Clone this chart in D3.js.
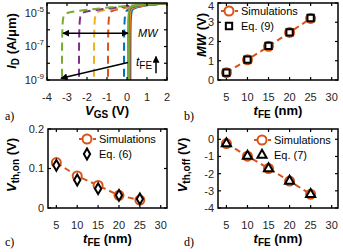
<!DOCTYPE html>
<html>
<head>
<meta charset="utf-8">
<script src="https://cdn.jsdelivr.net/npm/d3@7"></script>
<style>
body { margin: 0; background: #fff; }
svg { display: block; font-family: "Liberation Sans", Arial, sans-serif; }
.tick-label { font-size: 11px; fill: #262626; }
.axis-label { font-size: 13px; font-weight: bold; fill: #000; }
.panel-tag { font-family: "Liberation Serif", "DejaVu Serif", serif; font-size: 12px; fill: #000; }
.legend { font-size: 11px; fill: #000; }
</style>
</head>
<body>
<div id="chart"></div>
<script>
// ---- data ----
const tfe = [5, 10, 15, 20, 25];
const mwSim = [0.38, 1.05, 1.75, 2.47, 3.2];
const mwEq = [0.38, 1.06, 1.77, 2.47, 3.22];
const vonSim = [0.115, 0.081, 0.057, 0.032, 0.020];
const vonEq = [0.108, 0.071, 0.049, 0.032, 0.023];
const voffSim = [-0.25, -0.98, -1.7, -2.43, -3.2];
const voffEq = [-0.25, -0.98, -1.7, -2.43, -3.2];

const tfeTicks = [5, 10, 15, 20, 25, 30];
const vgsTicks = [-4, -3, -2, -1, 0, 1, 2];
const logIdTicks = [-9, -8, -7, -6, -5];
const logIdLabels = [-9, -7, -5];

// transfer curves, one per tFE: [VGS, log10(ID)]
const curveColors = ["#0072BD", "#D95319", "#EDB120", "#7E2F8E", "#77AC30"];
const fwdCurves = [
	[[0.17, -9.3], [0.17, -5.0], [0.25, -4.75], [0.6, -4.6], [1.2, -4.5], [2, -4.42]],
	[[0.13, -9.3], [0.13, -4.95], [0.22, -4.72], [0.6, -4.58], [1.2, -4.49], [2, -4.42]],
	[[0.1, -9.3], [0.1, -4.9], [0.2, -4.7], [0.6, -4.56], [1.2, -4.48], [2, -4.42]],
	[[0.07, -9.3], [0.07, -4.85], [0.17, -4.67], [0.6, -4.54], [1.2, -4.47], [2, -4.42]],
	[[0.05, -9.3], [0.05, -4.8], [0.15, -4.63], [0.6, -4.52], [1.2, -4.46], [2, -4.42]]
];
const bwdCurves = [
	[[-0.15, -8.8], [-0.15, -5.0], [0.0, -4.8], [0.5, -4.62], [1.2, -4.5], [2, -4.42]],
	[[-0.95, -8.8], [-0.95, -5.05], [-0.8, -4.86], [-0.2, -4.7], [0.8, -4.55], [2, -4.42]],
	[[-1.65, -8.8], [-1.65, -5.1], [-1.5, -4.9], [-0.8, -4.76], [0.3, -4.6], [2, -4.42]],
	[[-2.4, -8.8], [-2.4, -5.15], [-2.25, -4.95], [-1.6, -4.82], [-0.5, -4.66], [0.5, -4.53], [2, -4.42]],
	[[-3.25, -8.8], [-3.25, -5.2], [-3.1, -5.0], [-2.5, -4.87], [-1.5, -4.74], [-0.5, -4.62], [0.5, -4.52], [2, -4.42]]
];

const orange = "#D95319";

const svg = d3.select("#chart")
	.append("svg")
	.attr("width", 343)
	.attr("height", 252);

const defs = svg.append("defs");
defs.append("marker")
	.attr("id", "head")
	.attr("viewBox", "0 0 10 10")
	.attr("refX", 9).attr("refY", 5)
	.attr("markerWidth", 7).attr("markerHeight", 7)
	.attr("markerUnits", "userSpaceOnUse")
	.attr("orient", "auto-start-reverse")
	.append("path")
	.attr("d", "M0,0L10,5L0,10Z")
	.attr("fill", "#000");

/**
 * Draws a box with inner ticks on all four sides plus tick labels.
 */
function drawBox(box, x, y, xTicks, yTicks, yLabelFmt) {
	const g = svg.append("g");
	const len = 3;
	xTicks.forEach(t => {
		const px = x(t);
		g.append("line").attr("x1", px).attr("x2", px).attr("y1", box.y1).attr("y2", box.y1 - len);
		g.append("line").attr("x1", px).attr("x2", px).attr("y1", box.y0).attr("y2", box.y0 + len);
		g.append("text").attr("class", "tick-label")
			.attr("x", px).attr("y", box.y1 + 21)
			.attr("text-anchor", "middle")
			.text(t);
	});
	yTicks.forEach(t => {
		const py = y(t);
		g.append("line").attr("x1", box.x0).attr("x2", box.x0 + len).attr("y1", py).attr("y2", py);
		g.append("line").attr("x1", box.x1).attr("x2", box.x1 - len).attr("y1", py).attr("y2", py);
		if (yLabelFmt) {
			yLabelFmt(g, t, py);
		} else {
			// keep the top label inside the picture
			g.append("text").attr("class", "tick-label")
				.attr("x", box.x0 - 4).attr("y", Math.max(py, 6.5)).attr("dy", "0.35em")
				.attr("text-anchor", "end")
				.text(t);
		}
	});
	g.selectAll("line").attr("stroke", "#000").attr("stroke-width", 1.2);
	g.append("rect")
		.attr("x", box.x0).attr("y", box.y0)
		.attr("width", box.x1 - box.x0).attr("height", box.y1 - box.y0)
		.attr("fill", "none").attr("stroke", "#000").attr("stroke-width", 1.5);
	return g;
}

function xTitleTfe(box) {
	const t = svg.append("text").attr("class", "axis-label")
		.attr("x", (box.x0 + box.x1) / 2).attr("y", box.y1 + 35)
		.attr("text-anchor", "middle");
	t.append("tspan").attr("font-style", "italic").text("t");
	t.append("tspan").attr("font-size", "10px").attr("dy", 3).text("FE");
	t.append("tspan").attr("dy", -3).text(" (nm)");
}

function yTitle(x, cy, parts) {
	const t = svg.append("text").attr("class", "axis-label")
		.attr("transform", "translate(" + x + "," + cy + ") rotate(-90)")
		.attr("text-anchor", "middle");
	parts.forEach(p => {
		const s = t.append("tspan").text(p.text);
		if (p.italic) s.attr("font-style", "italic");
		if (p.sub) s.attr("font-size", "10px").attr("dy", 3);
		if (p.back) s.attr("dy", -3);
	});
}

function panelTag(x, y, txt) {
	svg.append("text").attr("class", "panel-tag").attr("x", x).attr("y", y).text(txt);
}

// ---- panel a: transfer curves ----
const boxA = {x0: 47, x1: 167, y0: 3, y1: 80};
const xA = d3.scaleLinear().domain([-4, 2]).range([boxA.x0, boxA.x1]);
const yA = d3.scaleLinear().domain([-9, -4.4]).range([boxA.y1, boxA.y0]);

defs.append("clipPath").attr("id", "clipA")
	.append("rect")
	.attr("x", boxA.x0).attr("y", boxA.y0)
	.attr("width", boxA.x1 - boxA.x0).attr("height", boxA.y1 - boxA.y0);

const lineA = d3.line().x(d => xA(d[0])).y(d => yA(d[1])).curve(d3.curveBasis);

const curvesA = svg.append("g").attr("clip-path", "url(#clipA)");
bwdCurves.forEach((c, i) => {
	curvesA.append("path")
		.attr("d", lineA(c))
		.attr("fill", "none")
		.attr("stroke", curveColors[i])
		.attr("stroke-width", 2)
		.attr("stroke-dasharray", "8,5");
});
fwdCurves.forEach((c, i) => {
	curvesA.append("path")
		.attr("d", lineA(c))
		.attr("fill", "none")
		.attr("stroke", curveColors[i])
		.attr("stroke-width", 2);
});

drawBox(boxA, xA, yA, vgsTicks, logIdTicks, (g, t, py) => {
	if (!logIdLabels.includes(t)) return;
	const txt = g.append("text").attr("class", "tick-label")
		.attr("x", boxA.x0 - 3).attr("y", Math.max(py, 9)).attr("dy", "0.35em")
		.attr("text-anchor", "end");
	txt.append("tspan").text("10");
	txt.append("tspan").attr("font-size", "8px").attr("dy", -5).text(t);
});

// annotations
svg.append("line")
	.attr("x1", xA(-3.2)).attr("y1", yA(-6.2))
	.attr("x2", xA(0.05)).attr("y2", yA(-6.2))
	.attr("stroke", "#000").attr("stroke-width", 1.5)
	.attr("marker-start", "url(#head)")
	.attr("marker-end", "url(#head)");
svg.append("text")
	.attr("x", xA(0.55)).attr("y", yA(-6.2)).attr("dy", "0.35em")
	.attr("font-size", "11px").attr("font-style", "italic")
	.text("MW");
svg.append("line")
	.attr("x1", xA(0.05)).attr("y1", yA(-7.95))
	.attr("x2", xA(-3.3)).attr("y2", yA(-8.9))
	.attr("stroke", "#000").attr("stroke-width", 1.5)
	.attr("marker-end", "url(#head)");
const tLab = svg.append("text")
	.attr("x", xA(0.45)).attr("y", yA(-7.95)).attr("dy", "0.3em")
	.attr("font-size", "12px");
tLab.append("tspan").attr("font-style", "italic").text("t");
tLab.append("tspan").attr("font-size", "10px").attr("dy", 3).text("FE");
svg.append("line")
	.attr("x1", xA(1.45)).attr("y1", yA(-8.6))
	.attr("x2", xA(1.45)).attr("y2", yA(-7.6))
	.attr("stroke", "#000").attr("stroke-width", 1.5)
	.attr("marker-end", "url(#head)");

const vgsTitle = svg.append("text").attr("class", "axis-label")
	.attr("x", (boxA.x0 + boxA.x1) / 2).attr("y", boxA.y1 + 35)
	.attr("text-anchor", "middle");
vgsTitle.append("tspan").attr("font-style", "italic").text("V");
vgsTitle.append("tspan").attr("font-size", "10px").attr("dy", 3).text("GS");
vgsTitle.append("tspan").attr("dy", -3).text(" (V)");
yTitle(16, 41, [
	{text: "I", italic: true},
	{text: "D", sub: true},
	{text: " (A/\u03bcm)", back: true}
]);
panelTag(5, 120, "a)");

// ---- shared pieces for b, c, d ----
function simSeries(box, x, y, vals) {
	const line = d3.line().x((d, i) => x(tfe[i])).y(d => y(d));
	svg.append("path")
		.attr("d", line(vals))
		.attr("fill", "none")
		.attr("stroke", orange)
		.attr("stroke-width", 2)
		.attr("stroke-dasharray", "6,4");
	svg.append("g").selectAll("circle")
		.data(vals)
		.enter().append("circle")
		.attr("cx", (d, i) => x(tfe[i]))
		.attr("cy", d => y(d))
		.attr("r", 4.5)
		.attr("fill", "#fff")
		.attr("stroke", orange)
		.attr("stroke-width", 2);
}

const symbols = {
	square: d3.symbol().type(d3.symbolSquare).size(40),
	diamond: d3.symbol().type(d3.symbolDiamond).size(34),
	triangle: d3.symbol().type(d3.symbolTriangle).size(36)
};

function eqSeries(x, y, vals, shape) {
	svg.append("g").selectAll("path")
		.data(vals)
		.enter().append("path")
		.attr("d", symbols[shape]())
		.attr("transform", (d, i) => "translate(" + x(tfe[i]) + "," + y(d) + ")")
		.attr("fill", "#fff")
		.attr("stroke", "#000")
		.attr("stroke-width", 2);
}

function legend(lx, ly, shape, eqText) {
	const g = svg.append("g");
	g.append("line")
		.attr("x1", lx - 8).attr("x2", lx + 9).attr("y1", ly).attr("y2", ly)
		.attr("stroke", orange).attr("stroke-width", 2).attr("stroke-dasharray", "4,3");
	g.append("circle").attr("cx", lx).attr("cy", ly).attr("r", 4.5)
		.attr("fill", "#fff").attr("stroke", orange).attr("stroke-width", 2);
	g.append("text").attr("class", "legend").attr("x", lx + 12).attr("y", ly).attr("dy", "0.35em").text("Simulations");
	g.append("path").attr("d", symbols[shape]())
		.attr("transform", "translate(" + lx + "," + (ly + 15) + ")")
		.attr("fill", "#fff").attr("stroke", "#000").attr("stroke-width", 2);
	g.append("text").attr("class", "legend").attr("x", lx + 12).attr("y", ly + 15).attr("dy", "0.35em").text(eqText);
}

// ---- panel b: MW ----
const boxB = {x0: 218, x1: 338, y0: 3, y1: 80};
const xB = d3.scaleLinear().domain([3, 31.5]).range([boxB.x0, boxB.x1]);
const yB = d3.scaleLinear().domain([0, 4]).range([boxB.y1, boxB.y0]);
drawBox(boxB, xB, yB, tfeTicks, [0, 1, 2, 3, 4]);
simSeries(boxB, xB, yB, mwSim);
eqSeries(xB, yB, mwEq, "square");
legend(229, 11, "square", "Eq. (9)");
xTitleTfe(boxB);
yTitle(206, 35, [{text: "MW", italic: true}, {text: " (V)"}]);
panelTag(184, 120, "b)");

// ---- panel c: Vth,on ----
const boxC = {x0: 48, x1: 167, y0: 129, y1: 208};
const xC = d3.scaleLinear().domain([3, 31.5]).range([boxC.x0, boxC.x1]);
const yC = d3.scaleLinear().domain([0, 0.2]).range([boxC.y1, boxC.y0]);
drawBox(boxC, xC, yC, tfeTicks, [0, 0.1, 0.2]);
simSeries(boxC, xC, yC, vonSim);
eqSeries(xC, yC, vonEq, "diamond");
legend(87, 139, "diamond", "Eq. (6)");
xTitleTfe(boxC);
yTitle(16, 165, [{text: "V", italic: true}, {text: "th,on", sub: true}, {text: " (V)", back: true}]);
panelTag(5, 246, "c)");

// ---- panel d: Vth,off ----
const boxD = {x0: 218, x1: 338, y0: 129, y1: 208};
const xD = d3.scaleLinear().domain([3, 31.5]).range([boxD.x0, boxD.x1]);
const yD = d3.scaleLinear().domain([-4, 0.6]).range([boxD.y1, boxD.y0]);
drawBox(boxD, xD, yD, tfeTicks, [-4, -3, -2, -1, 0]);
simSeries(boxD, xD, yD, voffSim);
eqSeries(xD, yD, voffEq, "triangle");
legend(262, 140, "triangle", "Eq. (7)");
xTitleTfe(boxD);
yTitle(187, 165, [{text: "V", italic: true}, {text: "th,off", sub: true}, {text: " (V)", back: true}]);
panelTag(184, 246, "d)");
</script>
</body>
</html>
